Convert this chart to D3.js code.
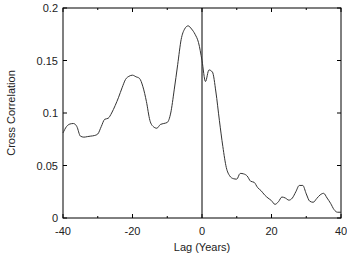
<!DOCTYPE html>
<html>
<head>
<meta charset="utf-8">
<script src="https://cdn.jsdelivr.net/npm/d3@7"></script>
<style>
  body { margin: 0; background: #fff; }
  text { font-family: "Liberation Sans", Arial, sans-serif; font-size: 11px; fill: #222; }
</style>
</head>
<body>
<svg id="chart" width="347" height="253"></svg>
<script>
// cross correlation vs lag
const lags = d3.range(-40, 41);
const corr = [
  0.081, 0.087, 0.0895, 0.090, 0.087, 0.078, 0.077, 0.0775, 0.078, 0.0785,
  0.080, 0.087, 0.094, 0.095, 0.100, 0.107, 0.115, 0.124, 0.132, 0.135,
  0.136, 0.1345, 0.133, 0.125, 0.111, 0.093, 0.087, 0.0855, 0.089, 0.090,
  0.091, 0.100, 0.122, 0.146, 0.170, 0.180, 0.183, 0.180, 0.175, 0.167,
  0.150, 0.130, 0.141, 0.139, 0.120, 0.093, 0.068, 0.048, 0.040, 0.0375,
  0.037, 0.0425, 0.042, 0.040, 0.035, 0.034, 0.029, 0.026, 0.022, 0.019,
  0.0165, 0.013, 0.0155, 0.020, 0.019, 0.017, 0.019, 0.025, 0.031, 0.031,
  0.023, 0.016, 0.015, 0.0185, 0.022, 0.0235, 0.019, 0.014, 0.008, 0.0055,
  0.0055
];
const xTicks = [-40, -20, 0, 20, 40];
const xMinor = [-30, -10, 10, 30];
const yTicks = [0, 0.05, 0.1, 0.15, 0.2];

const margin = { top: 8, right: 6, bottom: 35, left: 63 };
const width = 347 - margin.left - margin.right;
const height = 253 - margin.top - margin.bottom;

const svg = d3.select('#chart');
const g = svg.append('g').attr('transform', 'translate(' + margin.left + ',' + margin.top + ')');

const x = d3.scaleLinear().domain([-40, 40]).range([0, width]);
const y = d3.scaleLinear().domain([0, 0.2]).range([height, 0]);

// frame
g.append('rect').attr('width', width).attr('height', height)
  .attr('fill', 'none').attr('stroke', '#000').attr('stroke-width', 1);

// ticks, pointing inward on all four sides
const tickLine = (x1, y1, x2, y2) => g.append('line')
  .attr('x1', x1).attr('y1', y1).attr('x2', x2).attr('y2', y2)
  .attr('stroke', '#000').attr('stroke-width', 1);

xTicks.forEach(t => { tickLine(x(t), height, x(t), height - 4); tickLine(x(t), 0, x(t), 4); });
xMinor.forEach(t => { tickLine(x(t), height, x(t), height - 2); tickLine(x(t), 0, x(t), 2); });
yTicks.forEach(t => { tickLine(0, y(t), 4, y(t)); tickLine(width, y(t), width - 4, y(t)); });

g.selectAll('.xl').data(xTicks).enter().append('text')
  .attr('x', d => x(d)).attr('y', height + 17)
  .attr('text-anchor', 'middle').text(d => d);

g.selectAll('.yl').data(yTicks).enter().append('text')
  .attr('x', -5).attr('y', d => y(d) + 4)
  .attr('text-anchor', 'end').text(d => d);

// zero lag line
g.append('line').attr('x1', x(0)).attr('x2', x(0)).attr('y1', 0).attr('y2', height)
  .attr('stroke', '#000').attr('stroke-width', 1);

const line = d3.line().x((d, i) => x(lags[i])).y(d => y(d)).curve(d3.curveMonotoneX);
g.append('path').datum(corr)
  .attr('d', line).attr('fill', 'none')
  .attr('stroke', '#333').attr('stroke-width', 1);

svg.append('text').attr('x', margin.left + width / 2).attr('y', 251)
  .attr('text-anchor', 'middle').text('Lag (Years)');

svg.append('text').attr('transform', 'translate(15,' + (margin.top + height / 2) + ') rotate(-90)')
  .attr('text-anchor', 'middle').text('Cross Correlation');
</script>
</body>
</html>
